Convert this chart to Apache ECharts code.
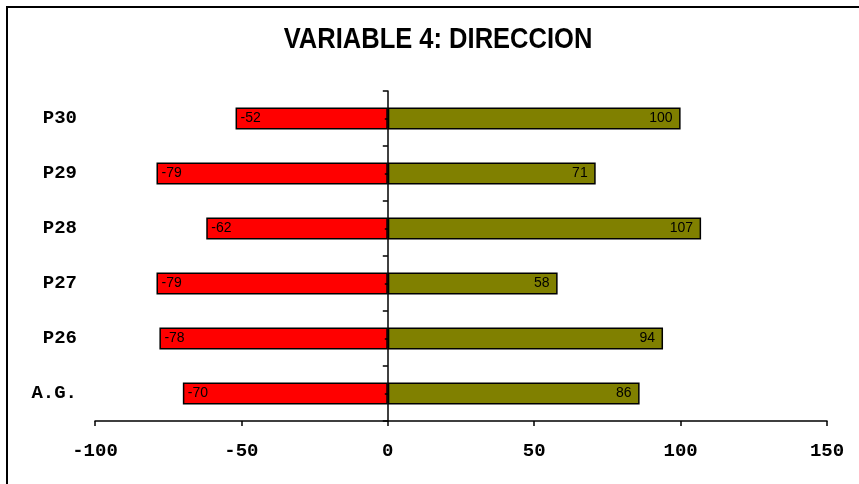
<!DOCTYPE html>
<html>
<head>
<meta charset="utf-8">
<script src="https://cdn.jsdelivr.net/npm/echarts@6/dist/echarts.min.js"></script>
<style>
  html, body { margin: 0; padding: 0; background: #fff; overflow: hidden; }
  #chart { width: 859px; height: 484px; }
</style>
</head>
<body>
<div id="chart"></div>
<script>
// Categories from bottom to top
const categories = ['A.G.', 'P26', 'P27', 'P28', 'P29', 'P30'];
// Negative (red) and positive (olive) values per category
const negativeValues = [-70, -78, -79, -62, -79, -52];
const positiveValues = [86, 94, 58, 107, 71, 100];
// Value axis range and step
const xMin = -100;
const xMax = 150;
const xStep = 50;
const titleText = 'VARIABLE 4: DIRECCION';

const chart = echarts.init(document.getElementById('chart'), null, { renderer: 'canvas' });

const monoFont = '"Liberation Mono", "Courier New", monospace';
const sansFont = '"Liberation Sans", Arial, sans-serif';

function valueLabel(position, distance) {
  return {
    show: true,
    position: position,
    distance: distance,
    color: '#000',
    fontFamily: sansFont,
    fontSize: 14
  };
}

chart.setOption({
  backgroundColor: '#fff',
  animation: false,
  graphic: [
    {
      // Outer frame (top and left edges fall inside the view)
      type: 'polyline',
      shape: { points: [[7, 490], [7, 7], [870, 7]] },
      style: { fill: null, stroke: '#000', lineWidth: 2 },
      silent: true
    },
    {
      type: 'text',
      x: 438,
      y: 40,
      scaleX: 0.88,
      style: {
        text: titleText,
        font: 'bold 29px ' + sansFont,
        fill: '#000',
        textAlign: 'center',
        textVerticalAlign: 'middle'
      },
      silent: true
    }
  ],
  grid: { left: 95, right: 32, top: 91, bottom: 63, containLabel: false },
  xAxis: {
    type: 'value',
    min: xMin,
    max: xMax,
    interval: xStep,
    splitLine: { show: false },
    axisLine: { show: true, onZero: false, lineStyle: { color: '#000', width: 1.5 } },
    axisTick: { show: true, length: 5, lineStyle: { color: '#000', width: 1.5 } },
    axisLabel: {
      color: '#000',
      fontFamily: monoFont,
      fontWeight: 'bold',
      fontSize: 19,
      margin: 21
    }
  },
  yAxis: [
    {
      // Category names at the left edge of the plot
      type: 'category',
      data: categories,
      position: 'left',
      axisLine: { show: false, onZero: false },
      axisTick: { show: false },
      axisLabel: {
        color: '#000',
        fontFamily: monoFont,
        fontWeight: 'bold',
        fontSize: 19,
        margin: 18
      }
    },
    {
      // Axis line at zero with ticks between categories
      type: 'category',
      data: categories,
      position: 'left',
      z: 10,
      axisLine: { show: true, onZero: true, onZeroAxisIndex: 0, lineStyle: { color: '#000', width: 1.5 } },
      axisTick: { show: true, length: 5, lineStyle: { color: '#000', width: 1.5 } },
      axisLabel: { show: false }
    },
    {
      // Ticks at category centres
      type: 'category',
      data: categories,
      position: 'left',
      z: 10,
      axisLine: { show: false, onZero: true, onZeroAxisIndex: 0 },
      axisTick: { show: true, alignWithLabel: true, length: 3, lineStyle: { color: '#000', width: 1.5 } },
      axisLabel: { show: false }
    }
  ],
  series: [
    {
      type: 'bar',
      stack: 'dir',
      data: negativeValues,
      barWidth: 22,
      itemStyle: { color: '#FF0000', borderColor: '#000', borderWidth: 1.5 },
      label: valueLabel('insideLeft', 5)
    },
    {
      type: 'bar',
      stack: 'dir',
      data: positiveValues,
      barWidth: 22,
      itemStyle: { color: '#808000', borderColor: '#000', borderWidth: 1.5 },
      label: valueLabel('insideRight', 8)
    }
  ]
});
</script>
</body>
</html>
